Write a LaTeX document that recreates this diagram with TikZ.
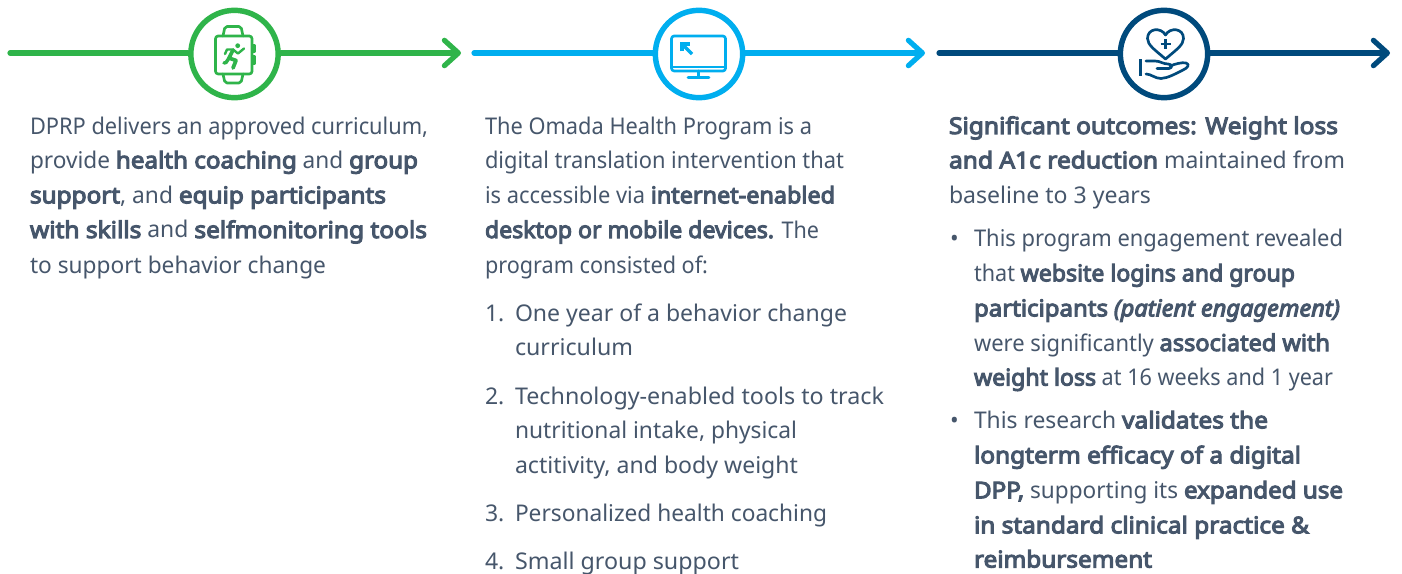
\documentclass[tikz,border=0pt]{standalone}
\usepackage{fontspec}
\setmainfont{Noto Sans}[BoldFont={Noto Sans},BoldFeatures={FakeBold=4.6,FakeStretch=1.07},ItalicFont={Noto Sans Italic},BoldItalicFont={Noto Sans Italic},BoldItalicFeatures={FakeBold=4.6,FakeStretch=1.05}]
\usetikzlibrary{arrows.meta}
\definecolor{cgreen}{HTML}{2FB44A}
\definecolor{cblue}{HTML}{00AEEF}
\definecolor{cdark}{HTML}{004A7C}
\definecolor{ctext}{HTML}{46566B}
\newcommand{\bt}[1]{\textbf{#1}}
\newcommand{\fitw}[2]{\resizebox{#1\dimexpr 0.75pt\relax}{\height}{#2}}
\begin{document}
\begin{tikzpicture}[x=0.75pt,y=-0.75pt,
  ln/.style={anchor=base west,inner sep=0pt,outer sep=0pt,text=ctext,font=\fontsize{17.25pt}{20pt}\selectfont},
  ring/.style={circle,draw=#1,line width=4.1pt,fill=white,minimum size=65.5pt,inner sep=0pt},
  flow/.style={draw=#1,line width=3.9pt,line cap=round},
  arrowed/.style={-{Straight Barb[length=10.5pt,width=19pt,line width=3.9pt,round]}},
  ico/.style={draw=#1,line width=2pt,line cap=round,line join=round}]
\useasboundingbox (0,0) rectangle (1402,574);
% flows
\coordinate (s1) at (10,53); \coordinate (e1) at (461,53);
\coordinate (s2) at (474,53); \coordinate (e2) at (925,53);
\coordinate (s3) at (939,53); \coordinate (e3) at (1390,53);
\node[ring=cgreen] (c1) at (234.5,54) {};
\node[ring=cblue] (c2) at (699,54) {};
\node[ring=cdark] (c3) at (1164,54) {};
\draw[flow=cgreen] (s1) -- (s1 -| c1.west);
\draw[flow=cgreen,arrowed] (c1.east |- e1) -- (e1);
\draw[flow=cblue] (s2) -- (s2 -| c2.west);
\draw[flow=cblue,arrowed] (c2.east |- e2) -- (e2);
\draw[flow=cdark] (s3) -- (s3 -| c3.west);
\draw[flow=cdark,arrowed] (c3.east |- e3) -- (e3);
% watch icon
\draw[ico=cgreen,rounded corners=2pt] (215.5,36) rectangle (252,74);
\draw[ico=cgreen,rounded corners=1.5pt] (223,36) -- (225,26.5) -- (241,26.5) -- (243,36);
\draw[ico=cgreen,rounded corners=1.5pt] (223,74) -- (225,83) -- (241,83) -- (243,74);
\draw[ico=cgreen] (252.5,45) -- (254.5,45) -- (254.5,52) -- (252.5,52);
\draw[ico=cgreen] (252.5,56) -- (254.5,56) -- (254.5,64) -- (252.5,64);
\fill[cgreen] (237.7,45.7) circle (2.4);
\draw[ico=cgreen,line width=2.8pt] (233,50) -- (229,58) -- (236,60.5) -- (233,68);
\draw[ico=cgreen,line width=2.6pt] (229,58) -- (226,62.5) -- (224,63);
\draw[ico=cgreen,line width=1.8pt] (225,54) -- (227,49.5) -- (233,49.5) -- (238,53.5) -- (244,48.5);
% monitor icon
\draw[ico=cblue,rounded corners=2pt] (671.5,36) rectangle (725.5,71);
\draw[ico=cblue] (672,67) -- (725,67);
\draw[ico=cblue] (698.5,71) -- (698.5,77.5);
\draw[ico=cblue] (688,77.5) -- (709,77.5);
\draw[ico=cblue,line width=2.6pt,line cap=butt] (682,44) -- (692,54);
\draw[ico=cblue,line width=2.6pt,line cap=butt,line join=miter] (682,51.5) -- (682,44) -- (689.5,44);
% heart & hand icon
\draw[ico=cdark] (1165.5,59) .. controls (1155,50) and (1147.5,45) .. (1147.5,38.5)
  .. controls (1147.5,28) and (1161,27) .. (1165.5,35)
  .. controls (1170,27) and (1183.5,28) .. (1183.5,38.5)
  .. controls (1183.5,45) and (1176,50) .. cycle;
\draw[ico=cdark,line width=2.2pt,line cap=butt] (1165.5,39) -- (1165.5,49);
\draw[ico=cdark,line width=2.2pt,line cap=butt] (1160.5,44) -- (1170.5,44);
\draw[ico=cdark,line width=2.4pt,line cap=butt] (1140.5,59.5) -- (1140.5,76.5);
\draw[ico=cdark] (1146,61) -- (1155,61) .. controls (1160,61) and (1163,64) .. (1168,64)
  .. controls (1172,64) and (1173,68) .. (1169,68.5) -- (1157,68.5);
\draw[ico=cdark] (1170,66) .. controls (1175,64) and (1182,62) .. (1186,63)
  .. controls (1190,64) and (1188,68) .. (1183,70)
  .. controls (1175,74) and (1168,78) .. (1161,78.5)
  .. controls (1155,78.5) and (1151,74) .. (1146,74);
% column 1
\node[ln] (a1) at (30,134) {\fitw{398}{DPRP delivers an approved curriculum,}};
\node[ln] (a2) at (30,168.3) {\fitw{388}{provide \bt{health coaching} and \bt{group}}};
\node[ln] (a3) at (30,203.3) {\fitw{356}{\bt{support}, and \bt{equip participants}}};
\node[ln] (a4) at (30,238) {\fitw{397}{\bt{with skills} and \bt{selfmonitoring tools}}};
\node[ln] (a5) at (30,273.2) {\fitw{296}{to support behavior change}};
% column 2
\node[ln] (b1) at (485,134) {\fitw{327}{The Omada Health Program is a}};
\node[ln] (b2) at (485,168.3) {\fitw{359}{digital translation intervention that}};
\node[ln] (b3) at (485,203.3) {\fitw{350}{is accessible via \bt{internet-enabled}}};
\node[ln] (b4) at (485,238) {\fitw{334}{\bt{desktop or mobile devices.} The}};
\node[ln] (b5) at (485,273.2) {\fitw{223}{program consisted of:}};
\node[ln] (n1) at (485,321.3) {1.};
\node[ln] (b6) at (515,321.3) {\fitw{332}{One year of a behavior change}};
\node[ln] (b7) at (515,355.3) {\fitw{118}{curriculum}};
\node[ln] (n2) at (485,404.3) {2.};
\node[ln] (b8) at (515,404.3) {\fitw{369}{Technology-enabled tools to track}};
\node[ln] (b9) at (515,438.3) {\fitw{282}{nutritional intake, physical}};
\node[ln] (b10) at (515,473.3) {\fitw{283}{actitivity, and body weight}};
\node[ln] (n3) at (485,521.3) {3.};
\node[ln] (b11) at (515,521.3) {\fitw{312}{Personalized health coaching}};
\node[ln] (n4) at (485,569.5) {4.};
\node[ln] (b12) at (515,569.5) {\fitw{224}{Small group support}};
% column 3
\node[ln] (d1) at (949,134) {\fitw{389}{\bt{Significant outcomes: Weight loss}}};
\node[ln] (d2) at (949,168.3) {\fitw{396}{\bt{and A1c reduction} maintained from}};
\node[ln] (d3) at (949,203.3) {\fitw{202}{baseline to 3 years}};
\node[ln] (m1) at (950,246.3) {•};
\node[ln] (d4) at (974,246.3) {\fitw{369}{This program engagement revealed}};
\node[ln] (d5) at (974,281.3) {\fitw{321}{that \bt{website logins and group}}};
\node[ln] (d6) at (974,316.3) {\fitw{366}{\bt{participants} \textbf{\textit{(patient engagement)}}}};
\node[ln] (d7) at (974,351) {\fitw{356}{were significantly \bt{associated with}}};
\node[ln] (d8) at (974,385.5) {\fitw{359}{\bt{weight loss} at 16 weeks and 1 year}};
\node[ln] (m2) at (950,428.3) {•};
\node[ln] (d9) at (974,428.3) {\fitw{294}{This research \bt{validates the}}};
\node[ln] (d10) at (974,463.3) {\fitw{327}{\bt{longterm efficacy of a digital}}};
\node[ln] (d11) at (974,498.3) {\fitw{369}{\bt{DPP,} supporting its \bt{expanded use}}};
\node[ln] (d12) at (974,533.3) {\fitw{335}{\bt{in standard clinical practice \&}}};
\node[ln] (d13) at (974,567.5) {\fitw{178}{\bt{reimbursement}}};
\end{tikzpicture}
\end{document}
